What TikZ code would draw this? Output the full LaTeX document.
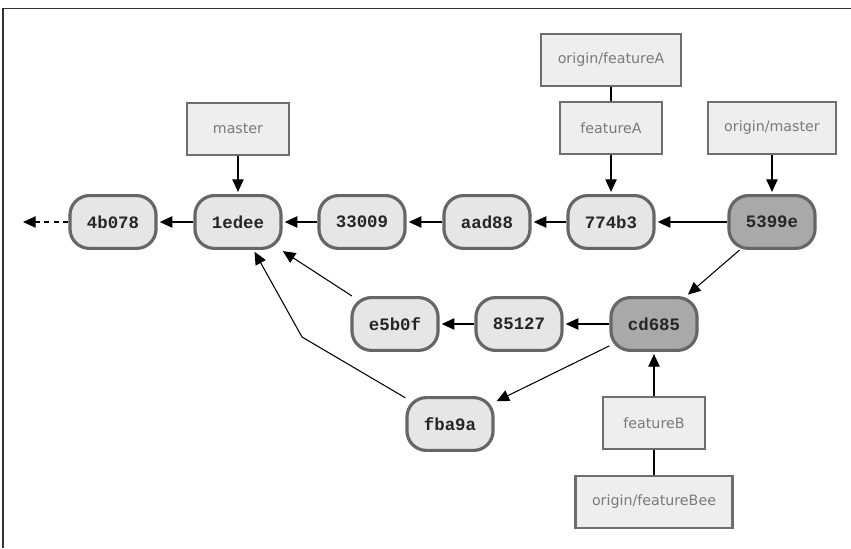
\documentclass[tikz,border=0pt]{standalone}
\usepackage{fontspec}
\usepackage{tikz}
\usetikzlibrary{arrows.meta, positioning}
\newfontfamily\reffont{DejaVu Sans}
\newfontfamily\hashfont{Liberation Mono}
\definecolor{commitfill}{RGB}{230,230,230}
\definecolor{headfill}{RGB}{169,169,169}
\definecolor{commitline}{RGB}{102,102,102}
\definecolor{reffill}{RGB}{238,238,238}
\definecolor{refline}{RGB}{110,110,110}
\definecolor{reftext}{RGB}{122,122,122}
\definecolor{framegray}{RGB}{51,51,51}

\begin{document}
\begin{tikzpicture}[
    commit/.style={rectangle, draw=commitline, line width=3pt, fill=commitfill, rounded corners=0.65cm, minimum width=2.87cm, minimum height=1.76cm, font=\hashfont\bfseries\fontsize{16.5}{19}\selectfont, text=black!85},
    headcommit/.style={commit, fill=headfill},
    branch/.style={rectangle, draw=refline, line width=2pt, fill=reffill, minimum width=3.4cm, minimum height=1.73cm, inner xsep=0.55cm, font=\reffont\fontsize{13.5}{16}\selectfont, text=reftext},
    parent/.style={-{Triangle[length=4.2mm, width=3.8mm]}, line width=1pt, shorten >=2pt}
]
\useasboundingbox (0,0) rectangle (28.367,18.267);
\draw[framegray, line width=1.5pt] (0.1,0) -- (0.1,17.983) -- (28.367,17.983);

% commits, top row
\node[commit] (c4b078) at (3.767,10.867) {4b078};
\node[commit] (c1edee) at (7.933,10.867) {1edee};
\node[commit] (c33009) at (12.067,10.867) {33009};
\node[commit] (caad88) at (16.233,10.867) {aad88};
\node[commit] (c774b3) at (20.367,10.867) {774b3};
\node[headcommit] (c5399e) at (25.733,10.867) {5399e};

% commits, lower rows
\node[commit] (ce5b0f) at (13.167,7.467) {e5b0f};
\node[commit] (c85127) at (17.3,7.467) {85127};
\node[headcommit] (ccd685) at (21.8,7.467) {cd685};
\node[commit] (cfba9a) at (15.0,4.133) {fba9a};

% branch labels
\node[branch, above=1.27cm of c1edee] (master) {master};
\node[branch, above=1.3cm of c774b3] (featureA) {featureA};
\node[branch, above=0.47cm of featureA] (originFeatureA) {origin/featureA};
\node[branch, above=1.3cm of c5399e] (originMaster) {origin/master};
\node[branch, below=1.47cm of ccd685] (featureB) {featureB};
\node[branch, below=0.83cm of featureB] (originFeatureBee) {origin/featureBee};

\coordinate (past) at (0.77,10.867);
\coordinate (bend) at (10.067,7.033);

\draw[parent, dash pattern=on 5pt off 4pt, shorten >=0pt] (c4b078) -- (past);
\draw[parent] (c1edee) -- (c4b078);
\draw[parent] (c33009) -- (c1edee);
\draw[parent] (caad88) -- (c33009);
\draw[parent] (c774b3) -- (caad88);
\draw[parent] (c5399e) -- (c774b3);
\draw[parent] (c5399e) -- (ccd685);
\draw[parent] (ccd685) -- (c85127);
\draw[parent] (c85127) -- (ce5b0f);
\draw[parent] (ce5b0f) -- (c1edee);
\draw[parent] (ccd685) -- (cfba9a);
\draw[parent] (cfba9a) -- (bend) -- (c1edee);

\draw[parent] (master) -- (c1edee);
\draw[parent] (featureA) -- (c774b3);
\draw[parent] (originMaster) -- (c5399e);
\draw[parent] (featureB) -- (ccd685);
\draw[line width=1pt] (originFeatureA) -- (featureA);
\draw[line width=1pt] (featureB) -- (originFeatureBee);

\end{tikzpicture}
\end{document}
